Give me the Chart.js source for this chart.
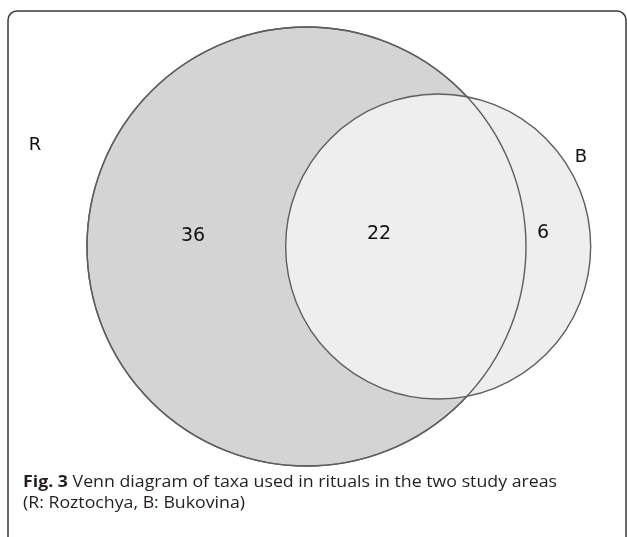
<!DOCTYPE html>
<html>
<head>
<meta charset="utf-8">
<script src="https://cdn.jsdelivr.net/npm/chart.js@4"></script>
<style>
  html, body { margin: 0; padding: 0; background: #fff; }
  canvas { display: block; }
</style>
</head>
<body>
<canvas id="venn" width="627" height="537"></canvas>
<script>
// Venn counts
const sets = ["R", "B"];
const onlyCounts = [36, 6];
const sharedCount = 22;
const regionLabels = ["36", "22", "6"];
const captionBold = "Fig. 3";
const captionRest = " Venn diagram of taxa used in rituals in the two study areas";
const captionLine2 = "(R: Roztochya, B: Bukovina)";

// area-proportional layout: circle area = set size
const totals = [onlyCounts[0] + sharedCount, onlyCounts[1] + sharedCount];
const radii = totals.map(t => Math.sqrt(t / Math.PI));

function lensArea(r1, r2, d) {
    if (d >= r1 + r2) return 0;
    if (d <= Math.abs(r1 - r2)) return Math.PI * Math.min(r1, r2) ** 2;
    const a1 = Math.acos((d * d + r1 * r1 - r2 * r2) / (2 * d * r1));
    const a2 = Math.acos((d * d + r2 * r2 - r1 * r1) / (2 * d * r2));
    const k = Math.sqrt((-d + r1 + r2) * (d + r1 - r2) * (d - r1 + r2) * (d + r1 + r2));
    return r1 * r1 * a1 + r2 * r2 * a2 - 0.5 * k;
}

let lo = Math.abs(radii[0] - radii[1]), hi = radii[0] + radii[1];
for (let i = 0; i < 100; i++) {
    const mid = (lo + hi) / 2;
    if (lensArea(radii[0], radii[1], mid) > sharedCount) lo = mid; else hi = mid;
}
const dist = (lo + hi) / 2;

// placement on the page
const W = 627, H = 537;
const bigRadiusPx = 219.5;
const centerPx = { x: 306.5, y: 246.5 };
const pxPerUnit = bigRadiusPx / radii[0];

const labelsPlugin = {
    id: "vennText",
    afterDraw(chart) {
        const ctx = chart.ctx;
        ctx.save();

        // frame
        ctx.strokeStyle = "#3a3a3a";
        ctx.lineWidth = 1.5;
        const fr = 9;
        ctx.beginPath();
        ctx.moveTo(8, H + 2);
        ctx.lineTo(8, 11 + fr);
        ctx.arcTo(8, 11, 8 + fr, 11, fr);
        ctx.lineTo(626 - fr, 11);
        ctx.arcTo(626, 11, 626, 11 + fr, fr);
        ctx.lineTo(626, H + 2);
        ctx.stroke();

        // set names and counts
        ctx.fillStyle = "#111";
        ctx.textAlign = "center";
        ctx.textBaseline = "middle";
        ctx.font = "18px 'DejaVu Sans'";
        ctx.fillText(sets[0], 35, 145);
        ctx.fillText(sets[1], 581, 157);
        ctx.font = "19px 'DejaVu Sans'";
        ctx.fillText(regionLabels[0], 193, 236);
        ctx.fillText(regionLabels[1], 379, 234);
        ctx.fillText(regionLabels[2], 543, 233);

        // caption
        ctx.textAlign = "left";
        ctx.textBaseline = "alphabetic";
        ctx.fillStyle = "#231f20";
        const bold = "bold 16px 'Open Sans'";
        const reg = "16px 'Open Sans'";
        ctx.font = bold;
        const wb = ctx.measureText(captionBold).width;
        ctx.font = reg;
        const wr = ctx.measureText(captionRest).width;
        const sx = 534 / (wb + wr);
        ctx.translate(23, 0);
        ctx.scale(sx, 1);
        ctx.font = bold;
        ctx.fillText(captionBold, 0, 487);
        ctx.font = reg;
        ctx.fillText(captionRest, wb, 487);
        ctx.fillText(captionLine2, 0, 508);
        ctx.restore();
    }
};

const ctx = document.getElementById("venn").getContext("2d");

const venn = new Chart(ctx, {
    type: "bubble",
    data: {
        datasets: [
            {
                label: sets[0],
                data: [{ x: 0, y: 0, size: radii[0], r: 1 }],
                backgroundColor: "#d4d4d4",
                borderColor: "#5e5e5e",
                borderWidth: 1.4,
                clip: false,
                order: 3
            },
            {
                label: sets[1],
                data: [{ x: dist, y: 0, size: radii[1], r: 1 }],
                backgroundColor: "#eeeeee",
                borderColor: "#5e5e5e",
                borderWidth: 1.4,
                clip: false,
                order: 2
            },
            {
                label: sets[0] + " outline",
                data: [{ x: 0, y: 0, size: radii[0], r: 1 }],
                backgroundColor: "rgba(0,0,0,0)",
                borderColor: "#5e5e5e",
                borderWidth: 1.4,
                clip: false,
                order: 1
            }
        ]
    },
    options: {
        responsive: false,
        animation: false,
        events: [],
        layout: { padding: 0, autoPadding: false },
        scales: {
            x: {
                type: "linear", display: false,
                min: -centerPx.x / pxPerUnit,
                max: (W - centerPx.x) / pxPerUnit
            },
            y: {
                type: "linear", display: false,
                min: -(H - centerPx.y) / pxPerUnit,
                max: centerPx.y / pxPerUnit
            }
        },
        plugins: {
            legend: { display: false },
            tooltip: { enabled: false }
        }
    },
    plugins: [labelsPlugin]
});

// bubble radius is in pixels: convert the circle radius through the x scale
const xs = venn.scales.x;
venn.data.datasets.forEach(ds => {
    ds.data.forEach(p => {
        p.r = Math.abs(xs.getPixelForValue(p.size) - xs.getPixelForValue(0));
    });
});
venn.update();
</script>
</body>
</html>
